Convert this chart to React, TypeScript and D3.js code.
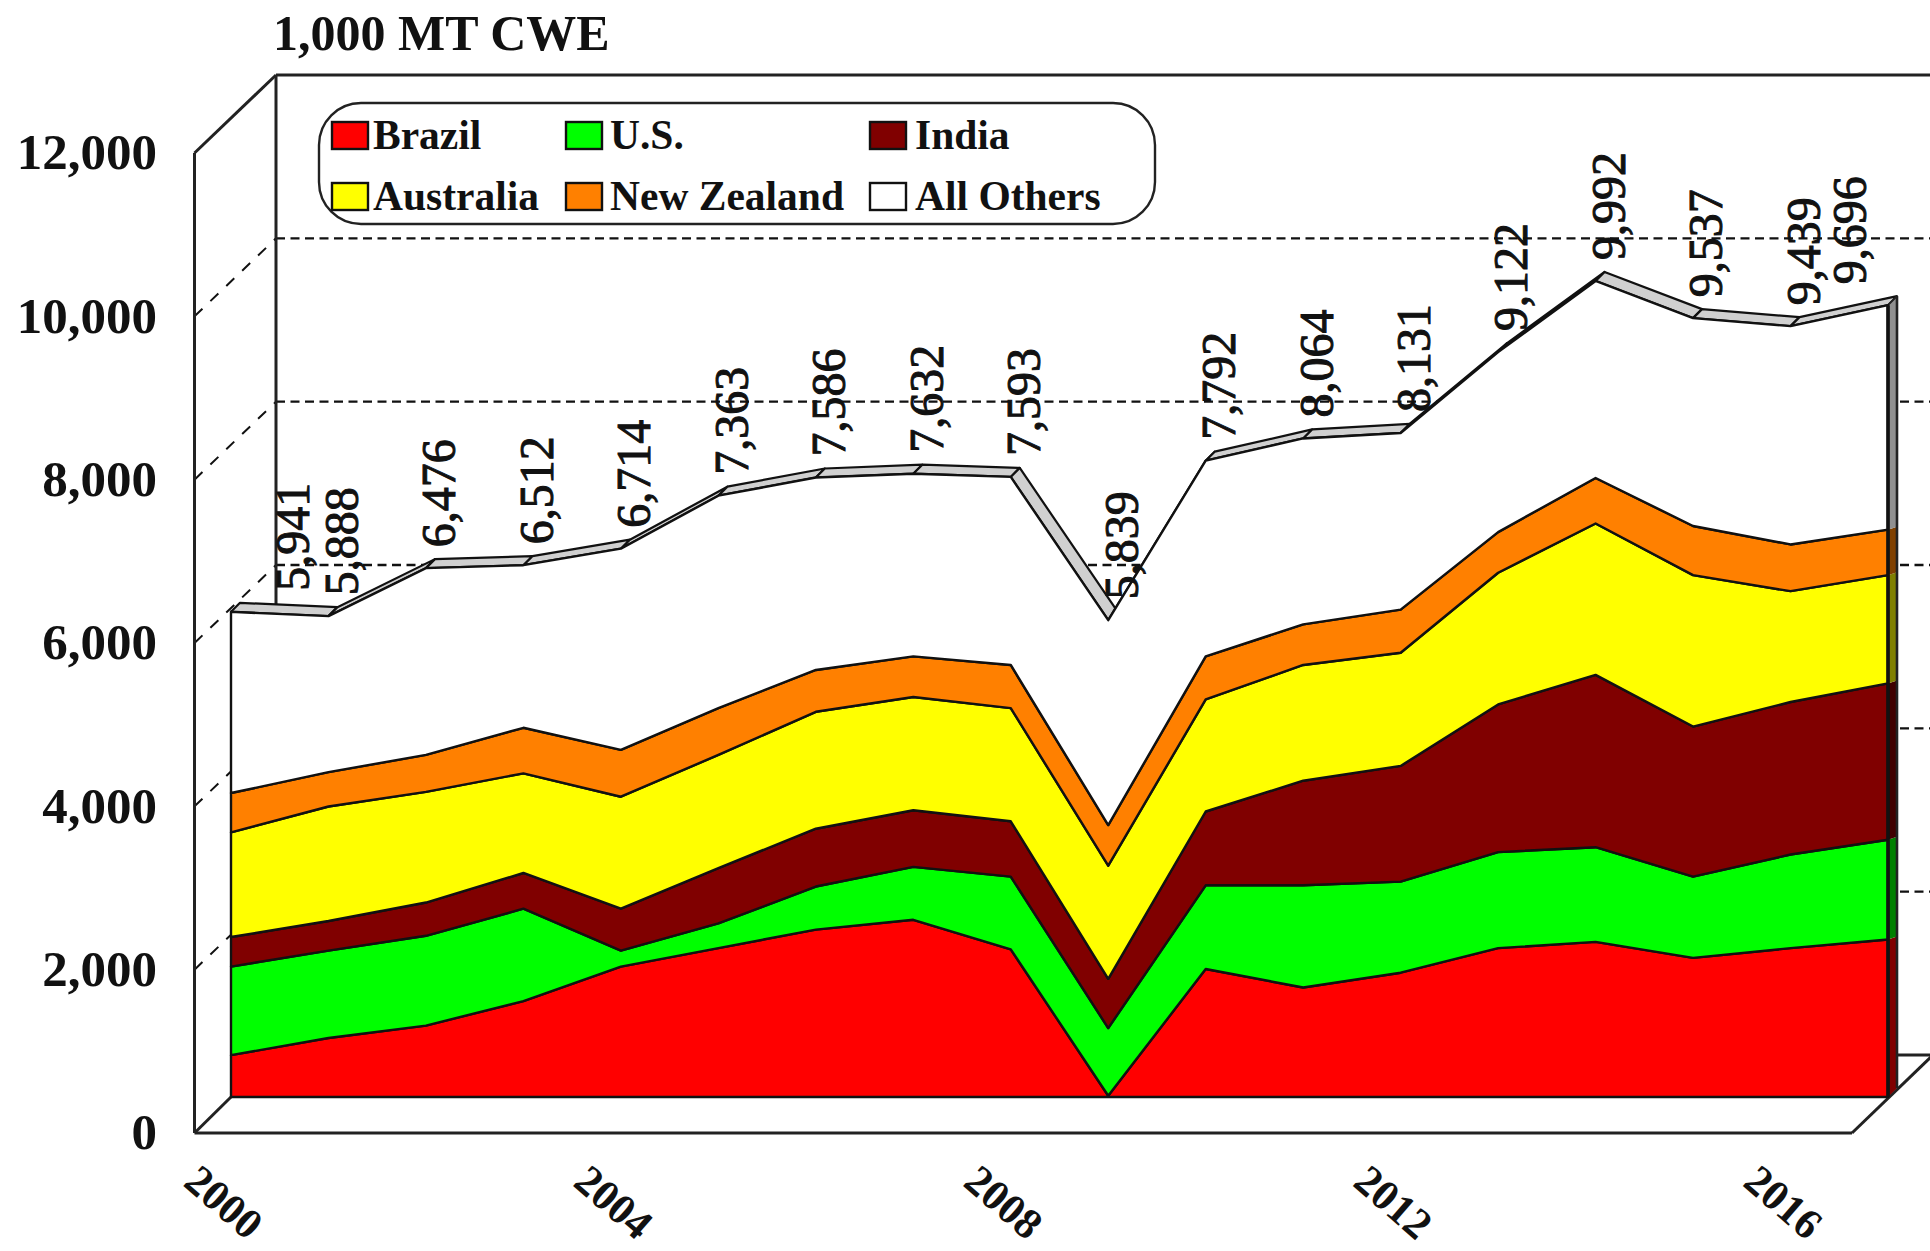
import * as d3 from "d3";

const years = d3.range(2000, 2018);
const brazil = [512, 723, 874, 1175, 1597, 1823, 2050, 2170, 1808, 15, 1567, 1341, 1522, 1823, 1899, 1703, 1823, 1929];
const us = [1085, 1070, 1100, 1131, 196, 302, 527, 648, 890, 829, 1025, 1251, 1115, 1176, 1160, 995, 1146, 1221];
const india = [362, 362, 407, 437, 513, 678, 708, 693, 678, 603, 904, 1281, 1417, 1808, 2110, 1838, 1868, 1914];
const australia = [1281, 1402, 1356, 1220, 1371, 1386, 1432, 1387, 1386, 1386, 1372, 1417, 1386, 1613, 1854, 1854, 1357, 1326];
const newZealand = [482, 421, 452, 558, 573, 573, 512, 497, 528, 497, 527, 497, 528, 497, 557, 602, 572, 557];
const allOthers = [2219, 1910, 2287, 1991, 2464, 2601, 2357, 2237, 2303, 2509, 2397, 2277, 2163, 2205, 2412, 2545, 2673, 2749];

const seriesNames = ["Brazil", "U.S.", "India", "Australia", "New Zealand", "All Others"];
const seriesValues = [brazil, us, india, australia, newZealand, allOthers];
const seriesColors = ["#ff0000", "#00ff00", "#800000", "#ffff00", "#ff8000", "#ffffff"];
const sideColors = ["#800000", "#008000", "#400000", "#808000", "#804000", "#909090"];
const yTicks = [0, 2000, 4000, 6000, 8000, 10000, 12000];
const xTicks = [2000, 2004, 2008, 2012, 2016];

const W = 1930;
const H = 1251;
const SERIF = "'Liberation Serif', 'Times New Roman', serif";
const INK = "#111";

// front edge of the box, back wall, and the plane the areas sit on
const yFront = d3.scaleLinear().domain([0, 12000]).range([1133, 153]);
const yBack = d3.scaleLinear().domain([0, 12000]).range([1055, 75]);
const yPlane = d3.scaleLinear().domain([0, 12000]).range([1097, 117]);
const x = d3.scaleLinear().domain([2000, 2017]).range([231, 1888]);

const FRONT_X = 194.5;
const BACK_X = 276;
const FRONT_RIGHT = 1852;
const BACK_RIGHT = 1933;
const DEPTH = 9;
const SIDE_RISE = 3;

const rows = years.map((year, i) => {
  const row: Record<string, number> = { year };
  seriesNames.forEach((name, s) => (row[name] = seriesValues[s][i]));
  return row;
});
const stacked = d3.stack<Record<string, number>>().keys(seriesNames)(rows);
const totals = years.map((_, i) => d3.sum(seriesValues, (s) => s[i]));
const fmt = d3.format(",");

const area = d3
  .area<d3.SeriesPoint<Record<string, number>>>()
  .x((d) => x(d.data.year))
  .y0((d) => yPlane(d[0]))
  .y1((d) => yPlane(d[1]));

// the first and last value labels get pushed sideways in the original
function labelX(i: number) {
  if (i === 0) return x(years[0]) + 62;
  if (i === years.length - 1) return x(years[i]) - 38;
  return x(years[i]) + 13;
}

const legendColumns = [
  { swatch: 332, text: 373 },
  { swatch: 566, text: 610 },
  { swatch: 870, text: 915 },
];
const legendRows = [135, 196];

export default function App() {
  const last = years.length - 1;
  const xEnd = x(years[last]);

  return (
    <svg
      width={W}
      height={H}
      viewBox={`0 0 ${W} ${H}`}
      style={{ position: "absolute", left: 0, top: 0, background: "#fff" }}
    >
      <text x={273} y={50} fontFamily={SERIF} fontSize={50} fontWeight="bold" fill={INK}>
        1,000 MT CWE
      </text>

      {/* grid on the back wall and left wall */}
      {yTicks.slice(1, -1).map((t) => (
        <g key={t} stroke={INK} fill="none">
          <line x1={BACK_X} x2={W} y1={yBack(t)} y2={yBack(t)} strokeWidth={2.4} strokeDasharray="9 5.5" />
          <line x1={FRONT_X} x2={BACK_X} y1={yFront(t)} y2={yBack(t)} strokeDasharray="11 11" strokeWidth={2} />
        </g>
      ))}

      {/* box */}
      <g stroke="#222" strokeWidth={3} fill="none">
        <line x1={BACK_X} x2={W} y1={yBack(12000)} y2={yBack(12000)} />
        <line x1={BACK_X} x2={BACK_X} y1={yBack(12000)} y2={yBack(0)} />
        <line x1={FRONT_X} x2={FRONT_X} y1={yFront(12000)} y2={yFront(0)} />
        <line x1={FRONT_X} x2={BACK_X} y1={yFront(12000)} y2={yBack(12000)} />
        <line x1={FRONT_X} x2={FRONT_RIGHT} y1={yFront(0)} y2={yFront(0)} />
        <line x1={FRONT_X} x2={x(2000)} y1={yFront(0)} y2={yPlane(0)} />
        <line x1={FRONT_RIGHT} x2={BACK_RIGHT} y1={yFront(0)} y2={yBack(0)} />
        <line x1={xEnd} x2={W} y1={yBack(0)} y2={yBack(0)} />
      </g>

      {/* top ribbon of the 3D area, painted before the front faces */}
      {years.slice(0, -1).map((year, i) => {
        const x0 = x(year);
        const x1 = x(years[i + 1]);
        const y0 = yPlane(totals[i]);
        const y1 = yPlane(totals[i + 1]);
        return (
          <polygon
            key={year}
            points={`${x0},${y0} ${x1},${y1} ${x1 + DEPTH},${y1 - DEPTH} ${x0 + DEPTH},${y0 - DEPTH}`}
            fill="#d0d0d0"
            stroke={INK}
            strokeWidth={2.2}
            strokeLinejoin="round"
          />
        );
      })}

      {/* right side of the 3D area */}
      {stacked.map((layer, s) => {
        const rise0 = s === 0 ? DEPTH : SIDE_RISE;
        const rise1 = s === stacked.length - 1 ? DEPTH : SIDE_RISE;
        const y0 = yPlane(layer[last][0]);
        const y1 = yPlane(layer[last][1]);
        return (
          <polygon
            key={layer.key}
            points={`${xEnd},${y0} ${xEnd},${y1} ${xEnd + DEPTH},${y1 - rise1} ${xEnd + DEPTH},${y0 - rise0}`}
            fill={sideColors[s]}
          />
        );
      })}
      <line
        x1={xEnd + DEPTH}
        x2={xEnd + DEPTH}
        y1={yPlane(totals[last]) - DEPTH}
        y2={yPlane(0) - DEPTH}
        stroke="#222"
        strokeWidth={2.6}
      />
      <line
        x1={xEnd}
        x2={xEnd + DEPTH}
        y1={yPlane(totals[last])}
        y2={yPlane(totals[last]) - DEPTH}
        stroke="#222"
        strokeWidth={2}
      />

      {/* front faces */}
      {stacked.map((layer, s) => (
        <path
          key={layer.key}
          d={area(layer) ?? ""}
          fill={seriesColors[s]}
          stroke={INK}
          strokeWidth={2.4}
          strokeLinejoin="round"
        />
      ))}
      <line x1={xEnd} x2={xEnd} y1={yPlane(totals[last])} y2={yPlane(0)} stroke={INK} strokeWidth={3.6} />

      {/* value labels */}
      {totals.map((t, i) => (
        <text
          key={years[i]}
          transform={`translate(${labelX(i)},${yPlane(t) - 21}) rotate(-90)`}
          dy="0.34em"
          fontFamily={SERIF}
          fontSize={48}
          fill={INK}
          stroke={INK}
          strokeWidth={1}
        >
          {fmt(t)}
        </text>
      ))}

      {/* y axis */}
      {yTicks.map((t) => (
        <text
          key={t}
          x={157}
          y={yFront(t) - 1}
          dy="0.34em"
          textAnchor="end"
          fontFamily={SERIF}
          fontSize={51}
          fontWeight="bold"
          fill={INK}
        >
          {fmt(t)}
        </text>
      ))}

      {/* x axis */}
      {xTicks.map((year) => (
        <text
          key={year}
          transform={`translate(${x(year) - 7},1202) rotate(41)`}
          dy="0.34em"
          textAnchor="middle"
          fontFamily={SERIF}
          fontSize={43}
          fontWeight="bold"
          fill={INK}
        >
          {year}
        </text>
      ))}

      {/* legend */}
      <rect x={319} y={103} width={836} height={121} rx={42} ry={42} fill="#fff" stroke="#222" strokeWidth={2.4} />
      {seriesNames.map((name, i) => {
        const col = legendColumns[i % 3];
        const cy = legendRows[Math.floor(i / 3)];
        return (
          <g key={name}>
            <rect x={col.swatch} y={cy - 13} width={36} height={27} fill={seriesColors[i]} stroke={INK} strokeWidth={2.4} />
            <text x={col.text} y={cy} dy="0.34em" fontFamily={SERIF} fontSize={41.5} fontWeight="bold" fill={INK}>
              {name}
            </text>
          </g>
        );
      })}
    </svg>
  );
}
